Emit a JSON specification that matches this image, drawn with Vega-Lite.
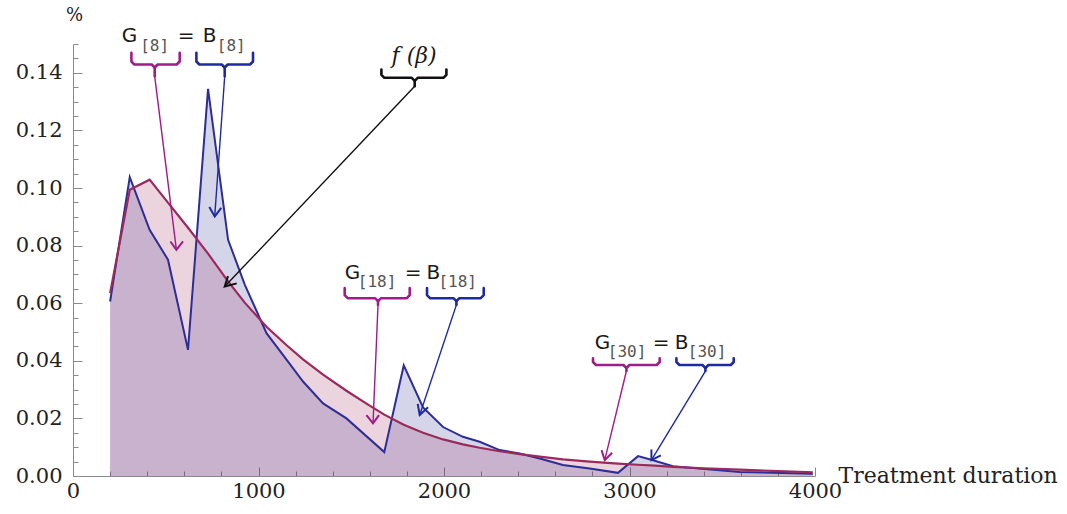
{
 "$schema": "https://vega.github.io/schema/vega-lite/v6.json",
 "width": 742, "height": 432,
 "autosize": "none",
 "padding": {"left": 73, "top": 44, "right": 252, "bottom": 38},
 "background": "white",
 "config": {"view": {"stroke": null}, "axis": {"grid": false, "domainColor": "#8a8a8a", "tickColor": "#8a8a8a", "labelFont": "DejaVu Serif", "labelFontSize": 21, "labelColor": "#222222", "titleFont": "DejaVu Serif", "titleFontWeight": "normal", "titleColor": "#222222"}},
 "datasets": {
  "blue": [
   {"t":200,"p":0.0606},{"t":306,"p":0.1038},{"t":413,"p":0.0855},{"t":512,"p":0.0751},{"t":620,"p":0.0438},
   {"t":728,"p":0.1344},{"t":836,"p":0.0820},{"t":927,"p":0.0663},{"t":1043,"p":0.0496},{"t":1150,"p":0.0405},
   {"t":1240,"p":0.0328},{"t":1348,"p":0.0252},{"t":1474,"p":0.0200},{"t":1678,"p":0.0083},{"t":1783,"p":0.0384},
   {"t":1887,"p":0.0238},{"t":1995,"p":0.0170},{"t":2102,"p":0.0136},{"t":2192,"p":0.0119},{"t":2300,"p":0.0090},
   {"t":2408,"p":0.0078},{"t":2516,"p":0.0061},{"t":2641,"p":0.0038},{"t":2785,"p":0.0026},{"t":2938,"p":0.0011},
   {"t":3046,"p":0.0069},{"t":3136,"p":0.0053},{"t":3234,"p":0.0034},{"t":3594,"p":0.0014},{"t":3988,"p":0.0008}
  ],
  "curve": [
   {"t":200,"p":0.0635},{"t":306,"p":0.0994},{"t":413,"p":0.1029},{"t":512,"p":0.0949},{"t":620,"p":0.0862},
   {"t":728,"p":0.0772},{"t":836,"p":0.0676},{"t":927,"p":0.0601},{"t":1043,"p":0.0518},{"t":1150,"p":0.0455},
   {"t":1240,"p":0.0405},{"t":1348,"p":0.0352},{"t":1474,"p":0.0296},{"t":1580,"p":0.0252},{"t":1678,"p":0.0213},
   {"t":1783,"p":0.0178},{"t":1887,"p":0.0150},{"t":1995,"p":0.0127},{"t":2102,"p":0.0110},{"t":2192,"p":0.0098},
   {"t":2300,"p":0.0086},{"t":2408,"p":0.0076},{"t":2516,"p":0.0067},{"t":2641,"p":0.0058},{"t":2785,"p":0.0050},
   {"t":2938,"p":0.0043},{"t":3046,"p":0.0039},{"t":3136,"p":0.0036},{"t":3234,"p":0.0032},{"t":3400,"p":0.0027},
   {"t":3594,"p":0.0022},{"t":3800,"p":0.0017},{"t":3988,"p":0.0013}
  ],
  "ann": [
   {"s":"b1m","c":"m","k":"br","o":1,"x":314.8,"y":0.14696},{"s":"b1m","c":"m","k":"br","o":2,"x":314.8,"y":0.14393},{"s":"b1m","c":"m","k":"br","o":3,"x":331.0,"y":0.14289},{"s":"b1m","c":"m","k":"br","o":4,"x":424.3,"y":0.14289},{"s":"b1m","c":"m","k":"br","o":5,"x":440.4,"y":0.14184},{"s":"b1m","c":"m","k":"br","o":6,"x":456.6,"y":0.14289},{"s":"b1m","c":"m","k":"br","o":7,"x":559.0,"y":0.14289},{"s":"b1m","c":"m","k":"br","o":8,"x":575.2,"y":0.14393},{"s":"b1m","c":"m","k":"br","o":9,"x":575.2,"y":0.14696},
   {"s":"t1m","c":"m","k":"br","o":1,"x":440.4,"y":0.14184},{"s":"t1m","c":"m","k":"br","o":2,"x":440.4,"y":0.13882},
   {"s":"b1b","c":"b","k":"br","o":1,"x":665.2,"y":0.14696},{"s":"b1b","c":"b","k":"br","o":2,"x":665.2,"y":0.14393},{"s":"b1b","c":"b","k":"br","o":3,"x":681.4,"y":0.14289},{"s":"b1b","c":"b","k":"br","o":4,"x":801.6,"y":0.14289},{"s":"b1b","c":"b","k":"br","o":5,"x":817.8,"y":0.14184},{"s":"b1b","c":"b","k":"br","o":6,"x":834.0,"y":0.14289},{"s":"b1b","c":"b","k":"br","o":7,"x":954.2,"y":0.14289},{"s":"b1b","c":"b","k":"br","o":8,"x":970.4,"y":0.14393},{"s":"b1b","c":"b","k":"br","o":9,"x":970.4,"y":0.14696},
   {"s":"t1b","c":"b","k":"br","o":1,"x":817.8,"y":0.14184},{"s":"t1b","c":"b","k":"br","o":2,"x":817.8,"y":0.13882},
   {"s":"bk","c":"k","k":"br","o":1,"x":1662.6,"y":0.14115},{"s":"bk","c":"k","k":"br","o":2,"x":1662.6,"y":0.1393},{"s":"bk","c":"k","k":"br","o":3,"x":1678.7,"y":0.13826},{"s":"bk","c":"k","k":"br","o":4,"x":1825.9,"y":0.13826},{"s":"bk","c":"k","k":"br","o":5,"x":1842.1,"y":0.13722},{"s":"bk","c":"k","k":"br","o":6,"x":1858.2,"y":0.13826},{"s":"bk","c":"k","k":"br","o":7,"x":1996.8,"y":0.13826},{"s":"bk","c":"k","k":"br","o":8,"x":2013.0,"y":0.1393},{"s":"bk","c":"k","k":"br","o":9,"x":2013.0,"y":0.14115},
   {"s":"tk","c":"k","k":"br","o":1,"x":1842.1,"y":0.13722},{"s":"tk","c":"k","k":"br","o":2,"x":1842.1,"y":0.13534},
   {"s":"b2m","c":"m","k":"br","o":1,"x":1464.7,"y":0.06522},{"s":"b2m","c":"m","k":"br","o":2,"x":1464.7,"y":0.06278},{"s":"b2m","c":"m","k":"br","o":3,"x":1480.9,"y":0.06174},{"s":"b2m","c":"m","k":"br","o":4,"x":1628.1,"y":0.06174},{"s":"b2m","c":"m","k":"br","o":5,"x":1644.3,"y":0.0607},{"s":"b2m","c":"m","k":"br","o":6,"x":1660.5,"y":0.06174},{"s":"b2m","c":"m","k":"br","o":7,"x":1799.0,"y":0.06174},{"s":"b2m","c":"m","k":"br","o":8,"x":1815.2,"y":0.06278},{"s":"b2m","c":"m","k":"br","o":9,"x":1815.2,"y":0.06522},
   {"s":"t2m","c":"m","k":"br","o":1,"x":1644.3,"y":0.0607},{"s":"t2m","c":"m","k":"br","o":2,"x":1644.3,"y":0.05941},
   {"s":"b2b","c":"b","k":"br","o":1,"x":1908.4,"y":0.06522},{"s":"b2b","c":"b","k":"br","o":2,"x":1908.4,"y":0.06278},{"s":"b2b","c":"b","k":"br","o":3,"x":1924.6,"y":0.06174},{"s":"b2b","c":"b","k":"br","o":4,"x":2050.7,"y":0.06174},{"s":"b2b","c":"b","k":"br","o":5,"x":2066.9,"y":0.0607},{"s":"b2b","c":"b","k":"br","o":6,"x":2083.1,"y":0.06174},{"s":"b2b","c":"b","k":"br","o":7,"x":2197.9,"y":0.06174},{"s":"b2b","c":"b","k":"br","o":8,"x":2214.1,"y":0.06278},{"s":"b2b","c":"b","k":"br","o":9,"x":2214.1,"y":0.06522},
   {"s":"t2b","c":"b","k":"br","o":1,"x":2066.9,"y":0.0607},{"s":"t2b","c":"b","k":"br","o":2,"x":2066.9,"y":0.05941},
   {"s":"b3m","c":"m","k":"br","o":1,"x":2803.3,"y":0.04087},{"s":"b3m","c":"m","k":"br","o":2,"x":2803.3,"y":0.03958},{"s":"b3m","c":"m","k":"br","o":3,"x":2819.5,"y":0.03854},{"s":"b3m","c":"m","k":"br","o":4,"x":2967.2,"y":0.03854},{"s":"b3m","c":"m","k":"br","o":5,"x":2983.4,"y":0.0375},{"s":"b3m","c":"m","k":"br","o":6,"x":2999.6,"y":0.03854},{"s":"b3m","c":"m","k":"br","o":7,"x":3146.8,"y":0.03854},{"s":"b3m","c":"m","k":"br","o":8,"x":3162.9,"y":0.03958},{"s":"b3m","c":"m","k":"br","o":9,"x":3162.9,"y":0.04087},
   {"s":"t3m","c":"m","k":"br","o":1,"x":2983.4,"y":0.0375},{"s":"t3m","c":"m","k":"br","o":2,"x":2983.4,"y":0.03645},
   {"s":"b3b","c":"b","k":"br","o":1,"x":3252.9,"y":0.04087},{"s":"b3b","c":"b","k":"br","o":2,"x":3252.9,"y":0.03958},{"s":"b3b","c":"b","k":"br","o":3,"x":3269.1,"y":0.03854},{"s":"b3b","c":"b","k":"br","o":4,"x":3393.1,"y":0.03854},{"s":"b3b","c":"b","k":"br","o":5,"x":3409.3,"y":0.0375},{"s":"b3b","c":"b","k":"br","o":6,"x":3425.4,"y":0.03854},{"s":"b3b","c":"b","k":"br","o":7,"x":3545.7,"y":0.03854},{"s":"b3b","c":"b","k":"br","o":8,"x":3561.8,"y":0.03958},{"s":"b3b","c":"b","k":"br","o":9,"x":3561.8,"y":0.04087},
   {"s":"t3b","c":"b","k":"br","o":1,"x":3409.3,"y":0.0375},{"s":"t3b","c":"b","k":"br","o":2,"x":3409.3,"y":0.03645},
   {"s":"a1m","c":"m","k":"ar","o":1,"x":440.4,"y":0.13882},{"s":"a1m","c":"m","k":"ar","o":2,"x":557.4,"y":0.07854},
   {"s":"a1b","c":"b","k":"ar","o":1,"x":817.8,"y":0.13882},{"s":"a1b","c":"b","k":"ar","o":2,"x":763.9,"y":0.09012},
   {"s":"ak","c":"k","k":"ar","o":1,"x":1842.1,"y":0.13534},{"s":"ak","c":"k","k":"ar","o":2,"x":817.8,"y":0.06577},
   {"s":"a2m","c":"m","k":"ar","o":1,"x":1644.3,"y":0.05941},{"s":"a2m","c":"m","k":"ar","o":2,"x":1617.3,"y":0.01826},
   {"s":"a2b","c":"b","k":"ar","o":1,"x":2066.9,"y":0.05941},{"s":"a2b","c":"b","k":"ar","o":2,"x":1869.1,"y":0.02115},
   {"s":"a3m","c":"m","k":"ar","o":1,"x":2983.4,"y":0.03645},{"s":"a3m","c":"m","k":"ar","o":2,"x":2866.4,"y":0.0055},
   {"s":"a3b","c":"b","k":"ar","o":1,"x":3409.3,"y":0.03645},{"s":"a3b","c":"b","k":"ar","o":2,"x":3118.1,"y":0.0055},
   {"s":"h1m","c":"m","k":"hd","o":1,"x":525.1,"y":0.08143},{"s":"h1m","c":"m","k":"hd","o":2,"x":557.4,"y":0.07854},{"s":"h1m","c":"m","k":"hd","o":3,"x":593.0,"y":0.08143},
   {"s":"h1b","c":"b","k":"hd","o":1,"x":734.8,"y":0.09339},{"s":"h1b","c":"b","k":"hd","o":2,"x":763.9,"y":0.09012},{"s":"h1b","c":"b","k":"hd","o":3,"x":799.5,"y":0.09311},
   {"s":"hk","c":"k","k":"hd","o":1,"x":835.6,"y":0.06939},{"s":"hk","c":"k","k":"hd","o":2,"x":817.8,"y":0.06577},{"s":"hk","c":"k","k":"hd","o":3,"x":882.5,"y":0.06689},
   {"s":"h2m","c":"m","k":"hd","o":1,"x":1581.7,"y":0.02115},{"s":"h2m","c":"m","k":"hd","o":2,"x":1617.3,"y":0.01826},{"s":"h2m","c":"m","k":"hd","o":3,"x":1649.6,"y":0.02115},
   {"s":"h2b","c":"b","k":"hd","o":1,"x":1914.3,"y":0.02386},{"s":"h2b","c":"b","k":"hd","o":2,"x":1869.1,"y":0.02115},{"s":"h2b","c":"b","k":"hd","o":3,"x":1858.2,"y":0.02504},
   {"s":"h3m","c":"m","k":"hd","o":1,"x":2906.3,"y":0.00807},{"s":"h3m","c":"m","k":"hd","o":2,"x":2866.4,"y":0.0055},{"s":"h3m","c":"m","k":"hd","o":3,"x":2849.2,"y":0.00897},
   {"s":"h3b","c":"b","k":"hd","o":1,"x":3168.8,"y":0.00717},{"s":"h3b","c":"b","k":"hd","o":2,"x":3118.1,"y":0.0055},{"s":"h3b","c":"b","k":"hd","o":3,"x":3118.1,"y":0.00918}
  ],
  "labels": [
   {"k":"big","t":"G","x":262.5,"y":0.15263},{"k":"big","t":"=","x":564.4,"y":0.15263},{"k":"big","t":"B","x":699.2,"y":0.15263},
   {"k":"sub","t":"[8]","x":362,"y":0.14915},{"k":"sub","t":"[8]","x":775,"y":0.14915},
   {"k":"big","t":"G","x":1464.7,"y":0.07043},{"k":"big","t":"=","x":1788.1,"y":0.07043},{"k":"big","t":"B","x":1905.2,"y":0.07043},
   {"k":"sub","t":"[18]","x":1535,"y":0.06751},{"k":"sub","t":"[18]","x":1970,"y":0.06751},
   {"k":"big","t":"G","x":2812.4,"y":0.04609},{"k":"big","t":"=","x":3125.1,"y":0.04609},{"k":"big","t":"B","x":3243.8,"y":0.04609},
   {"k":"sub","t":"[30]","x":2883,"y":0.04317},{"k":"sub","t":"[30]","x":3314,"y":0.04317},
   {"k":"f","t":"f (β)","x":1717.5,"y":0.14577}
  ]
 },
 "layer": [
  {
   "data": {"name": "blue"},
   "mark": {"type": "area", "color": "#2d2d96", "opacity": 0.2},
   "encoding": {
    "x": {"field": "t", "type": "quantitative", "scale": {"domain": [0, 4000], "nice": false},
          "axis": {"orient": "bottom", "values": [0, 1000, 2000, 3000, 4000], "format": "d", "tickSize": -9, "labelPadding": 13, "labelFlush": false, "labelBaseline": "top",
                   "title": "Treatment duration", "titleX": 765, "titleY": 6, "titleAlign": "left", "titleBaseline": "alphabetic", "titleFontSize": 22, "titleAnchor": null}},
    "y": {"field": "p", "type": "quantitative", "scale": {"domain": [0, 0.15], "nice": false},
          "axis": {"orient": "left", "values": [0, 0.02, 0.04, 0.06, 0.08, 0.1, 0.12, 0.14], "format": ".2f", "tickSize": -9, "labelPadding": 20,
                   "title": "%", "titleAngle": 0, "titleX": 1, "titleY": -29, "titleAlign": "center", "titleBaseline": "middle", "titleFontSize": 18}}
   }
  },
  {
   "data": {"name": "curve"},
   "mark": {"type": "area", "color": "#9a2a5c", "opacity": 0.2},
   "encoding": {
    "x": {"field": "t", "type": "quantitative", "axis": {"orient": "bottom", "values": [200,400,600,800,1200,1400,1600,1800,2200,2400,2600,2800,3200,3400,3600,3800], "tickSize": -5, "labels": false, "domain": false, "title": null}},
    "y": {"field": "p", "type": "quantitative", "axis": {"orient": "left", "values": [0.005,0.01,0.015,0.025,0.03,0.035,0.045,0.05,0.055,0.065,0.07,0.075,0.085,0.09,0.095,0.105,0.11,0.115,0.125,0.13,0.135,0.145,0.15], "tickSize": -5, "labels": false, "domain": false, "title": null}}
   }
  },
  {
   "data": {"name": "blue"},
   "mark": {"type": "line", "color": "#2d2d96", "strokeWidth": 2},
   "encoding": {"x": {"field": "t", "type": "quantitative", "axis": null}, "y": {"field": "p", "type": "quantitative", "axis": null}}
  },
  {
   "data": {"name": "curve"},
   "mark": {"type": "line", "color": "#9a2a5c", "strokeWidth": 2.2},
   "encoding": {"x": {"field": "t", "type": "quantitative", "axis": null}, "y": {"field": "p", "type": "quantitative", "axis": null}}
  },
  {
   "data": {"name": "ann"},
   "transform": [{"filter": "datum.k == 'br'"}],
   "mark": {"type": "line", "strokeWidth": 2.6, "clip": false, "strokeJoin": "round", "strokeCap": "round"},
   "encoding": {
    "x": {"field": "x", "type": "quantitative", "axis": null},
    "y": {"field": "y", "type": "quantitative", "axis": null},
    "detail": {"field": "s"},
    "order": {"field": "o", "type": "quantitative"},
    "color": {"field": "c", "type": "nominal", "scale": {"domain": ["m", "b", "k"], "range": ["#a01c86", "#1f2a9e", "#111111"]}, "legend": null}
   }
  },
  {
   "data": {"name": "ann"},
   "transform": [{"filter": "datum.k == 'ar'"}],
   "mark": {"type": "line", "strokeWidth": 1.4, "clip": false},
   "encoding": {
    "x": {"field": "x", "type": "quantitative", "axis": null},
    "y": {"field": "y", "type": "quantitative", "axis": null},
    "detail": {"field": "s"},
    "order": {"field": "o", "type": "quantitative"},
    "color": {"field": "c", "type": "nominal", "legend": null}
   }
  },
  {
   "data": {"name": "ann"},
   "transform": [{"filter": "datum.k == 'hd'"}],
   "mark": {"type": "line", "strokeWidth": 2, "clip": false, "strokeJoin": "miter"},
   "encoding": {
    "x": {"field": "x", "type": "quantitative", "axis": null},
    "y": {"field": "y", "type": "quantitative", "axis": null},
    "detail": {"field": "s"},
    "order": {"field": "o", "type": "quantitative"},
    "color": {"field": "c", "type": "nominal", "legend": null}
   }
  },
  {
   "data": {"name": "labels"},
   "transform": [{"filter": "datum.k == 'big'"}],
   "mark": {"type": "text", "font": "DejaVu Sans", "fontSize": 20, "color": "#1a1a1a", "align": "left", "baseline": "middle", "clip": false},
   "encoding": {"x": {"field": "x", "type": "quantitative", "axis": null}, "y": {"field": "y", "type": "quantitative", "axis": null}, "text": {"field": "t"}}
  },
  {
   "data": {"name": "labels"},
   "transform": [{"filter": "datum.k == 'sub'"}],
   "mark": {"type": "text", "font": "DejaVu Sans Mono", "fontSize": 16, "color": "#555555", "align": "left", "baseline": "middle", "clip": false},
   "encoding": {"x": {"field": "x", "type": "quantitative", "axis": null}, "y": {"field": "y", "type": "quantitative", "axis": null}, "text": {"field": "t"}}
  },
  {
   "data": {"name": "labels"},
   "transform": [{"filter": "datum.k == 'f'"}],
   "mark": {"type": "text", "font": "DejaVu Serif", "fontStyle": "italic", "fontSize": 22, "color": "#1a1a1a", "align": "left", "baseline": "middle", "clip": false},
   "encoding": {"x": {"field": "x", "type": "quantitative", "axis": null}, "y": {"field": "y", "type": "quantitative", "axis": null}, "text": {"field": "t"}}
  }
 ],
 "resolve": {"axis": {"x": "independent", "y": "independent"}}
}
